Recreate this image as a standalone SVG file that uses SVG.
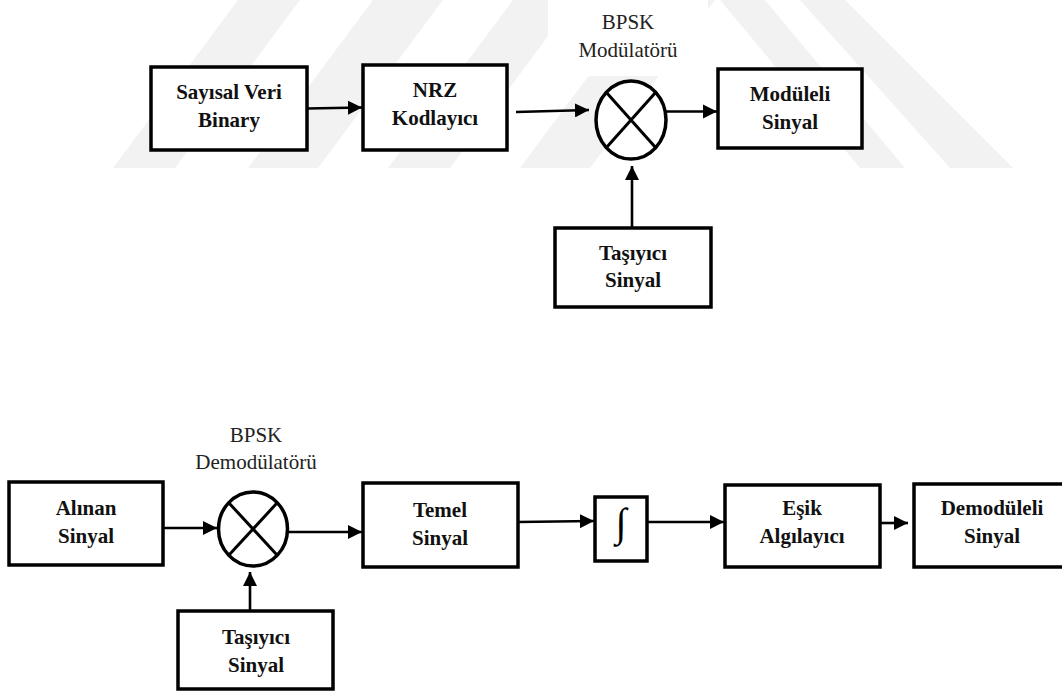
<svg xmlns="http://www.w3.org/2000/svg" width="1062" height="693" viewBox="0 0 1062 693">
  <defs>
    <marker id="arr" viewBox="0 0 10 10" refX="10" refY="5" markerWidth="5.6" markerHeight="5.4" markerUnits="strokeWidth" orient="auto">
      <path d="M0,0 L10,5 L0,10 Z" fill="#000"/>
    </marker>
    <style>
      .box { fill: #fff; stroke: #000; stroke-width: 3.5; }
      .sum { fill: #fff; stroke: #000; stroke-width: 3.5; }
      .x { stroke: #000; stroke-width: 3; }
      .lbl { font-family: "Liberation Serif", "Times New Roman", serif; font-weight: bold; font-size: 21px; fill: #111; text-anchor: middle; }
      .cap { font-family: "Liberation Serif", "Times New Roman", serif; font-size: 21px; fill: #222; text-anchor: middle; }
      .int { font-family: "Liberation Serif", "Times New Roman", serif; font-size: 40px; fill: #000; text-anchor: middle; }
      .wire { fill: none; stroke: #000; stroke-width: 2.6; marker-end: url(#arr); }
      .wm { fill: #f2f2f2; }
    </style>
  </defs>
  <rect width="1062" height="693" fill="#fff"/>

  <g id="watermark">
    <polygon class="wm" points="113,168 175,168 300,0 238,0"/>
    <polygon class="wm" points="248,168 318,168 443,0 373,0"/>
    <polygon class="wm" points="388,168 450,168 575,0 513,0"/>
    <polygon class="wm" points="520,168 590,168 715,0 645,0"/>
    <polygon class="wm" points="720,0 765,0 905,168 860,168"/>
    <polygon class="wm" points="800,0 845,0 1013,168 950,168"/>
    <rect x="548" y="0" width="160" height="76" fill="#fff"/>
  </g>

  <g id="connectors">
    <line class="wire" x1="307" y1="108.5" x2="362" y2="107.5"/>
    <line class="wire" x1="516" y1="112" x2="589" y2="110"/>
    <line class="wire" x1="666" y1="111.5" x2="717" y2="111.5"/>
    <line class="wire" x1="632" y1="228" x2="632" y2="166"/>
    <line class="wire" x1="163" y1="528" x2="217" y2="528"/>
    <line class="wire" x1="287" y1="532" x2="362" y2="532"/>
    <line class="wire" x1="250" y1="611" x2="250" y2="572"/>
    <line class="wire" x1="518" y1="522" x2="594" y2="521"/>
    <line class="wire" x1="647" y1="522" x2="724" y2="522"/>
    <line class="wire" x1="880" y1="523" x2="908" y2="523"/>
  </g>

  <g id="sayisal">
    <rect class="box" x="151" y="67" width="156" height="83"/>
    <text class="lbl" x="229" y="99">Sayısal Veri</text>
    <text class="lbl" x="229" y="127">Binary</text>
  </g>
  <g id="nrz">
    <rect class="box" x="363" y="65" width="144" height="85"/>
    <text class="lbl" x="435" y="97">NRZ</text>
    <text class="lbl" x="435" y="125">Kodlayıcı</text>
  </g>
  <g id="bpsk-mod">
    <text class="cap" x="628" y="29">BPSK</text>
    <text class="cap" x="628" y="57">Modülatörü</text>
    <ellipse class="sum" cx="631" cy="120" rx="35" ry="39"/>
    <line class="x" x1="606" y1="92" x2="656" y2="148"/>
    <line class="x" x1="656" y1="92" x2="606" y2="148"/>
  </g>
  <g id="moduleli">
    <rect class="box" x="718" y="69" width="144" height="79"/>
    <text class="lbl" x="790" y="101">Modüleli</text>
    <text class="lbl" x="790" y="129">Sinyal</text>
  </g>
  <g id="tasiyici-1">
    <rect class="box" x="555" y="228" width="156" height="79"/>
    <text class="lbl" x="633" y="260">Taşıyıcı</text>
    <text class="lbl" x="633" y="287">Sinyal</text>
  </g>

  <g id="alinan">
    <rect class="box" x="9" y="482" width="154" height="83"/>
    <text class="lbl" x="86" y="515">Alınan</text>
    <text class="lbl" x="86" y="543">Sinyal</text>
  </g>
  <g id="bpsk-demod">
    <text class="cap" x="256" y="442">BPSK</text>
    <text class="cap" x="256" y="469">Demodülatörü</text>
    <ellipse class="sum" cx="253" cy="529" rx="34.5" ry="37"/>
    <line class="x" x1="229" y1="503" x2="277" y2="555"/>
    <line class="x" x1="277" y1="503" x2="229" y2="555"/>
  </g>
  <g id="tasiyici-2">
    <rect class="box" x="178" y="611" width="155" height="78"/>
    <text class="lbl" x="256" y="644">Taşıyıcı</text>
    <text class="lbl" x="256" y="672">Sinyal</text>
  </g>
  <g id="temel">
    <rect class="box" x="363" y="483" width="155" height="84"/>
    <text class="lbl" x="440" y="517">Temel</text>
    <text class="lbl" x="440" y="545">Sinyal</text>
  </g>
  <g id="integral">
    <rect class="box" x="595" y="497" width="52" height="64"/>
    <text class="int" x="621" y="536">∫</text>
  </g>
  <g id="esik">
    <rect class="box" x="725" y="485" width="155" height="82"/>
    <text class="lbl" x="802" y="515">Eşik</text>
    <text class="lbl" x="802" y="543">Algılayıcı</text>
  </g>
  <g id="demoduleli">
    <rect class="box" x="914" y="484" width="156" height="83"/>
    <text class="lbl" x="992" y="515">Demodüleli</text>
    <text class="lbl" x="992" y="543">Sinyal</text>
  </g>
</svg>
